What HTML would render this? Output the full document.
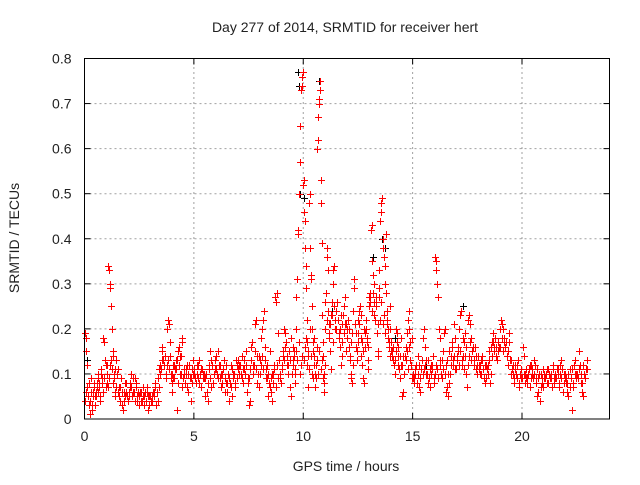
<!DOCTYPE html>
<html><head><meta charset="utf-8"><style>
body{margin:0;background:#fff}
svg text{font-family:"Liberation Sans",sans-serif;font-size:14px;fill:#222}
</style></head><body>
<svg id="chart" width="640" height="480" viewBox="0 0 640 480" xmlns="http://www.w3.org/2000/svg">
<rect width="640" height="480" fill="#fff"/>
<text x="345" y="32" text-anchor="middle">Day 277 of 2014, SRMTID for receiver hert</text>
<text transform="translate(19,238) rotate(-90)" text-anchor="middle">SRMTID / TECUs</text>
<text x="346" y="471" text-anchor="middle">GPS time / hours</text>
<g id="grid"></g>
<g id="blk" fill="#000000"></g>
<g id="red" fill="#ff0000"></g>
<rect x="84.5" y="58.5" width="525" height="360.5" fill="none" stroke="#000" stroke-width="1"/>
<g id="ticks"></g>
</svg>
<script>
const xTicks=[0,5,10,15,20];
const yTicks=[0,0.1,0.2,0.3,0.4,0.5,0.6,0.7,0.8];
const yTickLabels=["0","0.1","0.2","0.3","0.4","0.5","0.6","0.7","0.8"];
const binStarts=[0,0.5,1,1.5,2,2.5,3,3.5,4,4.5,5,5.5,6,6.5,7,7.5,8,8.5,9,9.5,10,10.5,11,11.5,12,12.5,13,13.5,14,14.5,15,15.5,16,16.5,17,17.5,18,18.5,19,19.5,20,20.5,21,21.5,22,22.5];
const redBins=[
[0.19,0.18,0.15,0.12,0.05,0.03,0.01,0.04,0.09,0.02,0.06,0.05,0.08,0.03],
[0.05,0.07,0.06,0.1,0.08,0.04,0.11,0.09,0.06,0.18,0.17,0.13,0.07],
[0.12,0.1,0.34,0.33,0.3,0.29,0.25,0.2,0.15,0.14,0.09,0.06,0.11,0.13,0.1],
[0.11,0.07,0.04,0.03,0.02,0.06,0.05,0.08,0.04],
[0.05,0.07,0.1,0.09,0.06,0.04,0.08,0.05,0.03],
[0.06,0.04,0.05,0.03,0.06,0.07,0.02,0.05],
[0.04,0.05,0.06,0.07,0.03,0.09,0.11,0.1],
[0.15,0.16,0.13,0.12,0.14,0.09,0.2,0.22,0.21,0.17,0.1,0.08],
[0.06,0.09,0.12,0.11,0.13,0.02,0.15,0.16,0.14,0.1,0.17,0.18],
[0.11,0.08,0.1,0.12,0.06,0.09,0.04,0.11,0.13],
[0.1,0.08,0.12,0.09,0.13,0.07,0.11,0.1,0.09],
[0.05,0.06,0.04,0.12,0.15,0.13,0.08,0.1,0.11],
[0.14,0.15,0.12,0.09,0.07,0.1,0.13,0.06,0.08],
[0.06,0.04,0.08,0.12,0.05,0.1,0.07,0.13,0.09],
[0.13,0.12,0.1,0.14,0.08,0.11,0.15,0.06,0.09],
[0.03,0.04,0.16,0.17,0.12,0.21,0.22,0.14,0.1,0.07],
[0.13,0.18,0.2,0.22,0.24,0.16,0.11,0.09,0.05,0.08,0.07],
[0.06,0.04,0.1,0.12,0.27,0.26,0.28,0.19,0.13,0.09,0.08],
[0.11,0.15,0.2,0.19,0.17,0.14,0.12,0.07,0.05,0.1],
[0.13,0.16,0.15,0.08,0.1,0.2,0.27,0.31,0.41,0.42,0.5,0.57,0.65,0.73,0.74,0.76,0.77],
[0.52,0.53,0.46,0.44,0.38,0.34,0.29,0.22,0.17,0.14,0.07,0.11,0.48,0.5,0.38,0.32,0.31,0.25,0.2,0.15,0.09,0.12],
[0.18,0.1,0.07,0.09,0.13,0.6,0.62,0.67,0.7,0.71,0.73,0.75,0.53,0.48,0.39,0.23,0.17,0.14,0.08,0.06,0.12],
[0.26,0.28,0.36,0.38,0.33,0.21,0.18,0.15,0.11,0.23,0.26,0.3,0.33,0.34,0.25,0.22,0.2],
[0.24,0.26,0.22,0.19,0.16,0.12,0.14,0.21,0.23,0.25,0.27,0.21,0.18],
[0.2,0.22,0.16,0.13,0.09,0.1,0.08,0.24,0.31,0.29,0.21,0.19,0.15,0.17],
[0.22,0.24,0.25,0.18,0.14,0.12,0.09,0.08,0.16,0.19,0.2,0.17,0.13,0.11],
[0.27,0.28,0.26,0.42,0.43,0.35,0.32,0.3,0.23,0.22,0.27,0.26,0.19,0.15,0.14,0.29,0.33],
[0.44,0.46,0.48,0.49,0.4,0.38,0.36,0.34,0.3,0.41,0.24,0.21,0.18,0.2,0.16,0.14,0.25],
[0.17,0.15,0.13,0.12,0.1,0.2,0.19,0.16,0.14,0.11,0.09,0.12],
[0.05,0.06,0.1,0.14,0.16,0.19,0.22,0.24,0.2,0.17,0.12,0.09],
[0.09,0.08,0.1,0.12,0.14,0.07,0.06,0.11,0.13,0.18],
[0.2,0.16,0.13,0.1,0.08,0.07,0.12,0.11,0.14,0.09],
[0.36,0.35,0.33,0.3,0.27,0.2,0.18,0.13,0.1,0.09,0.11,0.15,0.19,0.2],
[0.06,0.07,0.05,0.08,0.1,0.14,0.16,0.12,0.21,0.18,0.11],
[0.13,0.15,0.2,0.23,0.24,0.12,0.14,0.17,0.19,0.1,0.07],
[0.22,0.23,0.21,0.18,0.15,0.16,0.13,0.11,0.1,0.14],
[0.12,0.1,0.13,0.14,0.11,0.09,0.08,0.12,0.1,0.13],
[0.08,0.1,0.17,0.19,0.16,0.18,0.14,0.13,0.15,0.2],
[0.22,0.21,0.2,0.18,0.16,0.17,0.14,0.12,0.19,0.13],
[0.11,0.1,0.08,0.12,0.09,0.13,0.07,0.1,0.11],
[0.16,0.14,0.1,0.09,0.08,0.11,0.07,0.12,0.1],
[0.13,0.12,0.09,0.05,0.06,0.04,0.1,0.08,0.07],
[0.09,0.1,0.08,0.11,0.1,0.09,0.07,0.12,0.08],
[0.09,0.11,0.1,0.07,0.12,0.13,0.06,0.08,0.1],
[0.08,0.06,0.05,0.11,0.09,0.02,0.07,0.12,0.13,0.1],
[0.1,0.15,0.12,0.08,0.06,0.05,0.09,0.11,0.13]
];
const redBinsExtra=[
[0.04,0.06,0.07,0.05,0.08,0.04,0.06,0.03,0.07,0.05],
[0.06,0.08,0.09,0.07,0.05,0.1,0.08,0.06,0.09,0.12],
[0.08,0.07,0.09,0.12,0.13,0.11,0.08,0.1,0.05,0.07],
[0.06,0.05,0.07,0.09,0.06,0.04,0.08,0.06,0.05],
[0.06,0.08,0.07,0.05,0.06,0.09,0.07,0.04,0.06],
[0.05,0.06,0.04,0.07,0.05,0.04,0.06,0.05,0.03],
[0.05,0.04,0.06,0.05,0.08,0.06,0.04,0.07,0.12],
[0.11,0.13,0.12,0.14,0.1,0.12,0.13,0.11,0.14,0.09],
[0.1,0.12,0.09,0.11,0.13,0.08,0.12,0.1,0.14,0.07],
[0.09,0.1,0.11,0.07,0.1,0.12,0.09,0.08,0.1],
[0.11,0.09,0.1,0.12,0.08,0.1,0.11,0.09,0.1],
[0.09,0.1,0.08,0.11,0.09,0.07,0.12,0.1,0.13],
[0.11,0.1,0.09,0.12,0.1,0.08,0.11,0.09,0.12],
[0.08,0.1,0.09,0.07,0.11,0.09,0.1,0.08,0.12],
[0.11,0.1,0.12,0.09,0.11,0.13,0.1,0.12,0.08],
[0.09,0.11,0.13,0.1,0.12,0.15,0.11,0.08,0.14],
[0.1,0.12,0.14,0.11,0.13,0.09,0.12,0.1,0.15],
[0.09,0.1,0.08,0.11,0.07,0.12,0.09,0.13,0.1],
[0.12,0.14,0.13,0.16,0.12,0.1,0.15,0.13,0.18],
[0.12,0.14,0.11,0.15,0.13,0.17,0.1,0.12,0.14],
[0.13,0.16,0.18,0.12,0.15,0.2,0.14,0.1,0.17],
[0.14,0.12,0.16,0.1,0.15,0.11,0.13,0.09,0.1],
[0.2,0.22,0.24,0.19,0.21,0.23,0.17,0.25,0.2],
[0.2,0.22,0.18,0.2,0.23,0.17,0.19,0.21,0.15],
[0.18,0.2,0.14,0.17,0.19,0.12,0.21,0.16,0.13],
[0.19,0.21,0.23,0.17,0.15,0.2,0.22,0.18,0.16],
[0.25,0.27,0.24,0.28,0.26,0.22,0.25,0.21,0.27],
[0.22,0.26,0.21,0.23,0.19,0.28,0.22,0.17,0.2],
[0.15,0.14,0.16,0.13,0.15,0.17,0.12,0.14,0.18],
[0.12,0.14,0.1,0.13,0.15,0.11,0.16,0.13,0.18],
[0.1,0.09,0.11,0.08,0.1,0.12,0.09,0.11,0.1],
[0.11,0.12,0.1,0.13,0.09,0.11,0.1,0.12,0.08],
[0.1,0.12,0.11,0.09,0.12,0.1,0.13,0.11,0.1],
[0.12,0.13,0.1,0.15,0.12,0.17,0.13,0.14,0.11],
[0.14,0.16,0.12,0.15,0.13,0.18,0.11,0.14,0.16],
[0.12,0.14,0.17,0.13,0.15,0.12,0.16,0.14,0.12],
[0.11,0.12,0.1,0.13,0.11,0.12,0.09,0.11,0.12],
[0.15,0.16,0.14,0.17,0.15,0.16,0.13,0.17,0.16],
[0.16,0.18,0.15,0.17,0.16,0.14,0.15,0.17,0.13],
[0.1,0.12,0.09,0.11,0.1,0.12,0.08,0.1,0.09],
[0.09,0.1,0.08,0.11,0.09,0.1,0.12,0.09,0.11],
[0.09,0.1,0.08,0.11,0.09,0.1,0.07,0.09,0.11],
[0.1,0.09,0.11,0.08,0.1,0.09,0.1,0.11,0.09],
[0.1,0.09,0.11,0.08,0.1,0.09,0.11,0.1,0.09],
[0.09,0.08,0.1,0.07,0.09,0.11,0.08,0.1,0.09],
[0.1,0.09,0.11,0.1,0.08,0.12,0.1,0.09,0.11]
];
const blackTimes=[0.05,0.1,9.75,9.8,9.85,10.05,10.1,10.7,10.75,13.2,13.6,13.75,16.15,12.1,11.3,14.2,17.3,15.6];
const blackValues=[0.15,0.13,0.77,0.74,0.5,0.49,0.44,0.75,0.73,0.36,0.4,0.38,0.27,0.2,0.24,0.18,0.25,0.12];

const X0=84.5,X1=609.5,Y0=419,Y1=58.5,XMAX=24,YMAX=0.8;
const xs=t=>X0+t/XMAX*(X1-X0);
const ys=v=>Y0-v/YMAX*(Y0-Y1);
const NS="http://www.w3.org/2000/svg";
function mk(tag,attrs,parent){const e=document.createElementNS(NS,tag);for(const k in attrs)e.setAttribute(k,attrs[k]);parent.appendChild(e);return e;}
const grid=document.getElementById('grid'),ticks=document.getElementById('ticks');
xTicks.forEach(t=>{
  const x=xs(t);
  if(t>0){const g=mk('line',{x1:x,x2:x,y1:Y0,y2:Y1,stroke:'#a0a0a0','stroke-dasharray':'2,3'},grid);
  
  }
  mk('line',{x1:x,x2:x,y1:Y0,y2:Y0-6,stroke:'#000'},ticks);
  mk('line',{x1:x,x2:x,y1:Y1,y2:Y1+6,stroke:'#000'},ticks);
  const l=mk('text',{x:x,y:Y0+22,'text-anchor':'middle'},ticks);l.textContent=t;
  
  
});
yTicks.forEach((v,i)=>{
  const y=ys(v);
  if(v>0&&v<0.8){const g=mk('line',{x1:X0,x2:X1,y1:y,y2:y,stroke:'#a0a0a0','stroke-dasharray':'2,3'},grid);
  
  }
  mk('line',{x1:X0,x2:X0+6,y1:y,y2:y,stroke:'#000'},ticks);
  mk('line',{x1:X1,x2:X1-6,y1:y,y2:y,stroke:'#000'},ticks);
  const l=mk('text',{x:X0-13,y:y+5,'text-anchor':'end'},ticks);l.textContent=yTickLabels[i];
  
  
});
function plus(g,t,v,name){
  const x=Math.round(xs(t)),y=Math.round(ys(v));
  const h=mk('rect',{x:x-3,y:y,width:7,height:1},g);
  
  
  const vv=mk('rect',{x:x,y:y-3,width:1,height:7},g);
  
  
}
const blk=document.getElementById('blk'),red=document.getElementById('red');
blackTimes.forEach((t,i)=>plus(blk,t,blackValues[i],'black-point'));
redBins.forEach((vals,b)=>{
  vals.forEach((v,i)=>plus(red,binStarts[b]+(i+0.5)*0.5/vals.length,v,'red-point'));
});
redBinsExtra.forEach((vals,b)=>{
  vals.forEach((v,i)=>plus(red,binStarts[b]+(i+0.25)*0.5/vals.length,v,'red-point'));
});
</script>
</body></html>
